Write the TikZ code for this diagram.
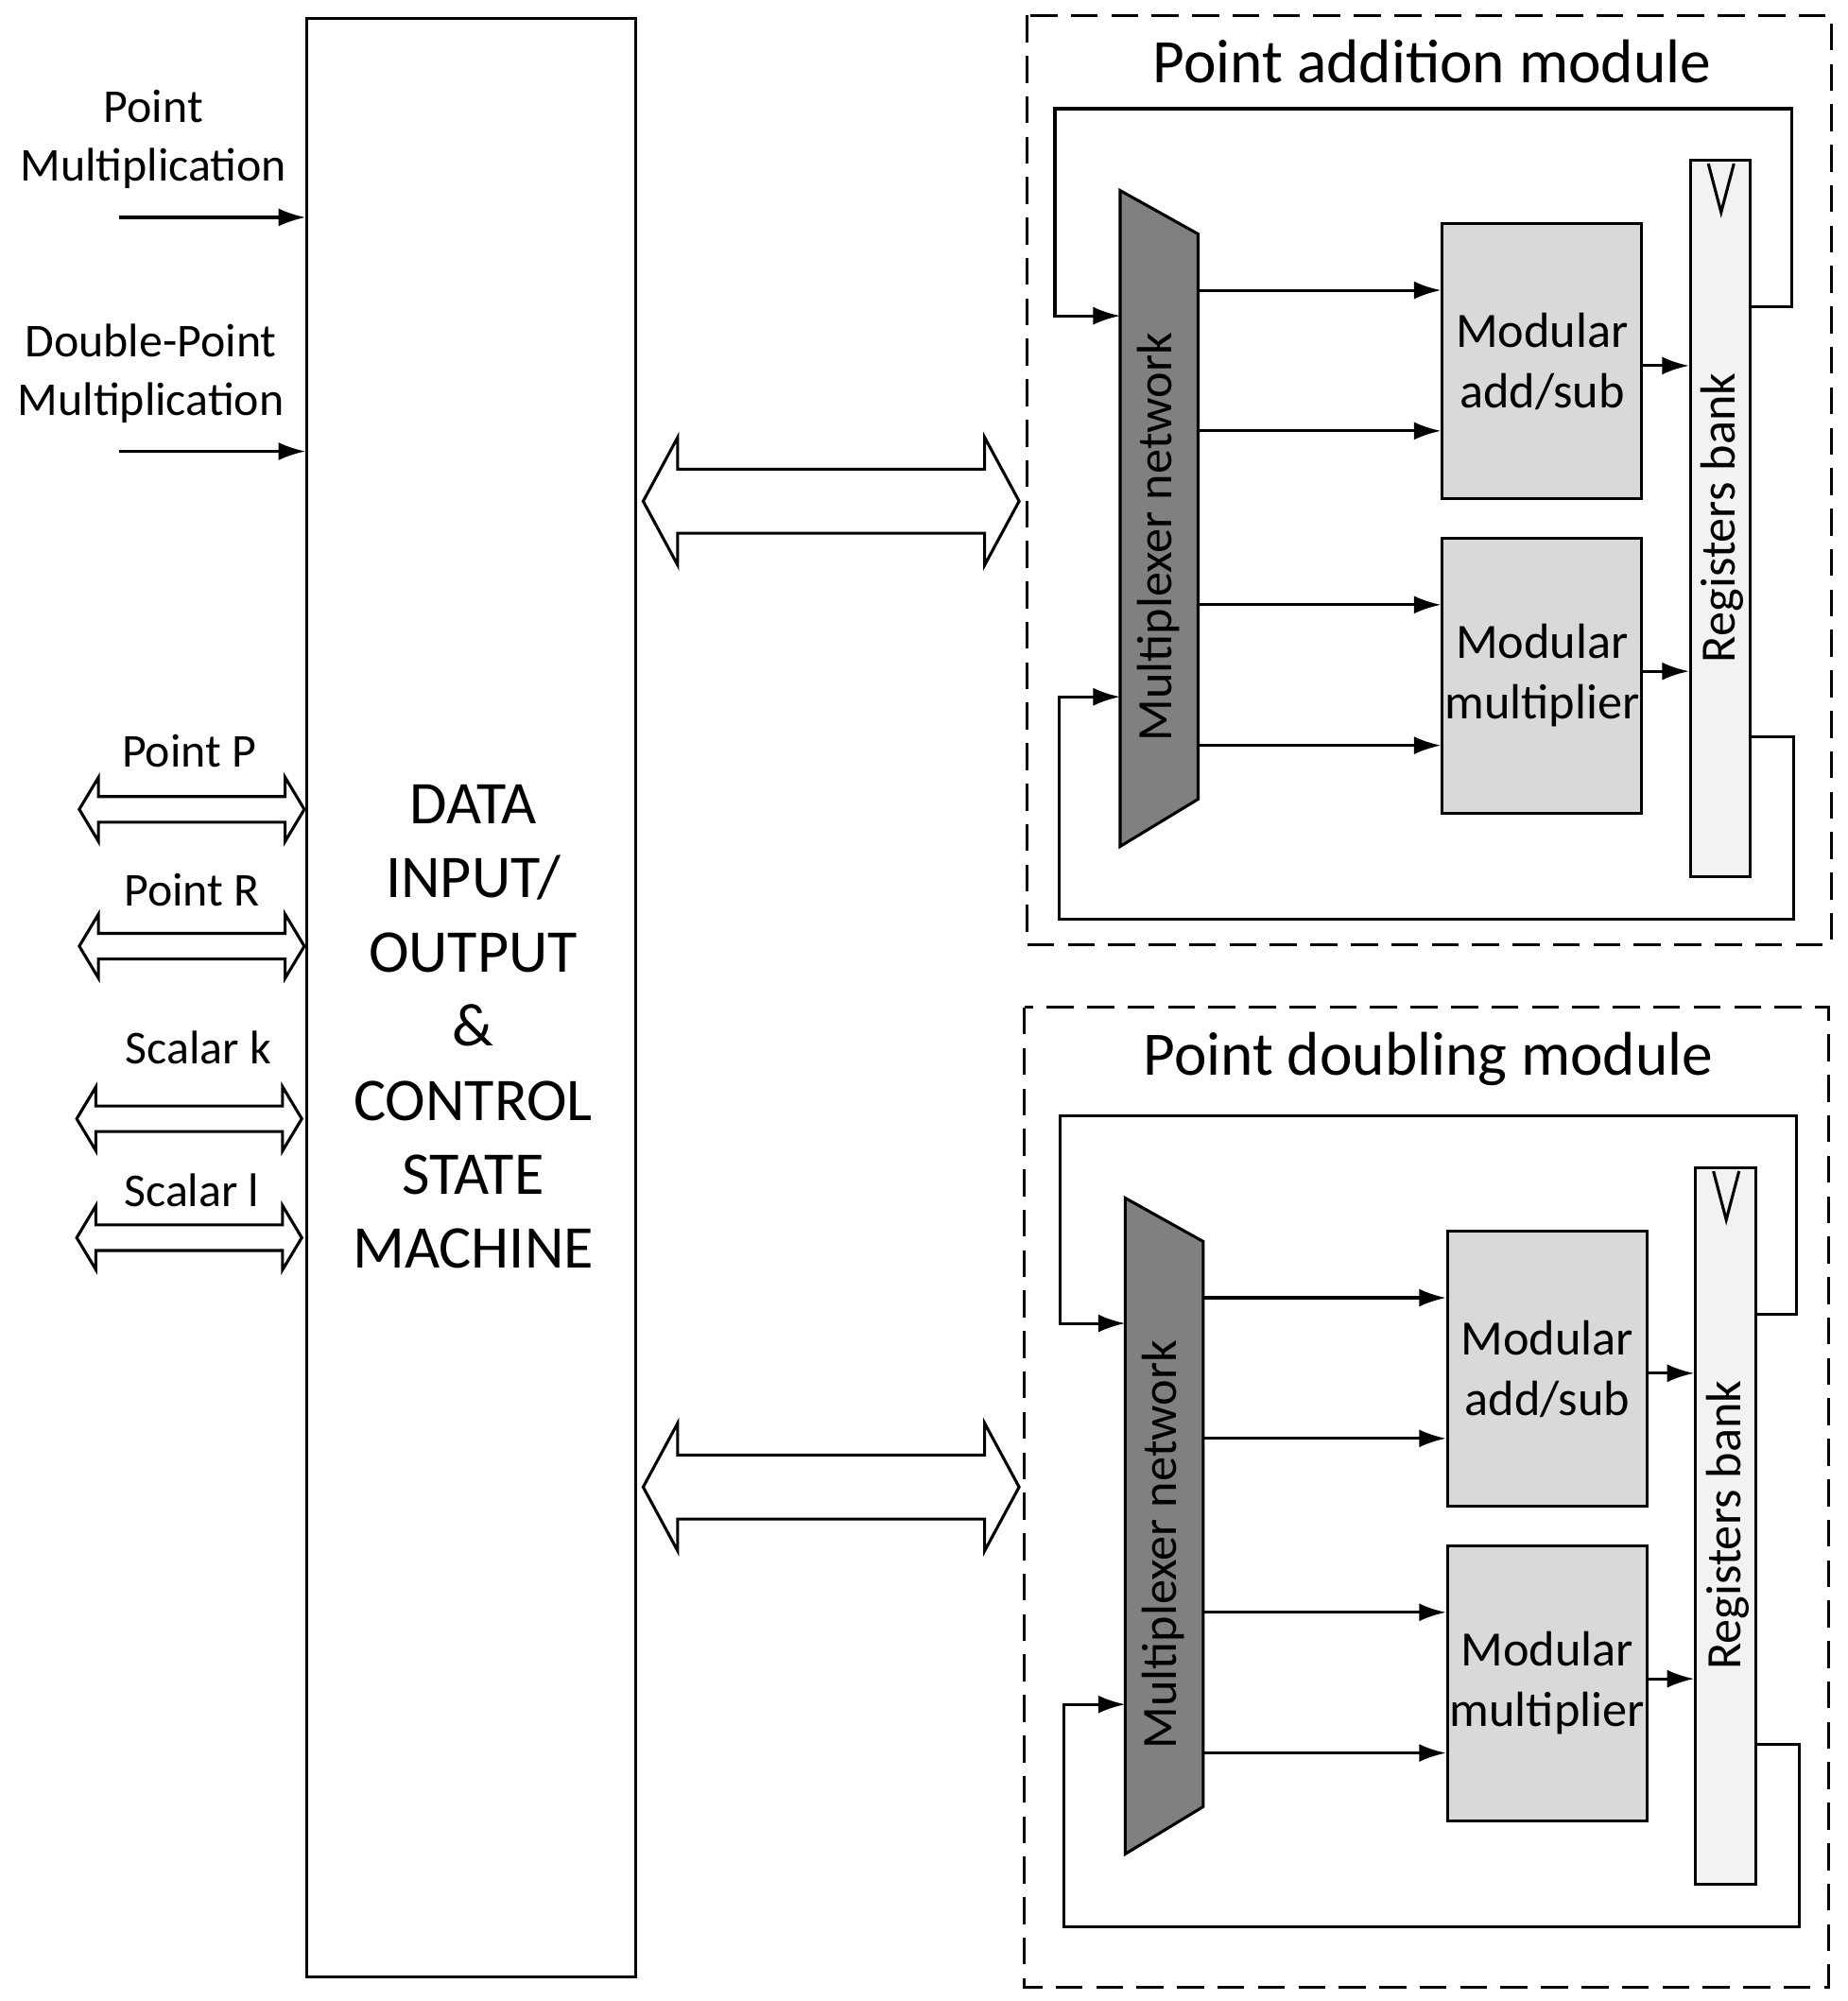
\documentclass[tikz,border=0pt]{standalone}
\usepackage{fontspec}
\setmainfont{Carlito}
\usetikzlibrary{arrows.meta}
\newcommand\hdarrow[6]{% x1 x2 y headhalf shafthalf headlen
  \draw[line width=1.3pt,fill=white] (#1,#3) -- (#1+#6,#3-#4) -- (#1+#6,#3-#5) -- (#2-#6,#3-#5) -- (#2-#6,#3-#4) -- (#2,#3) -- (#2-#6,#3+#4) -- (#2-#6,#3+#5) -- (#1+#6,#3+#5) -- (#1+#6,#3+#4) -- cycle;}
\newcommand\modblock[1]{%
  \draw[fill=black!50,line width=1.3pt] (876,149) -- (937,183) -- (937,625) -- (876,662) -- cycle;
  \node[rotate=90,font=\fontsize{22}{26}\selectfont] (mux#1) at (906,420) {Multiplexer network};
  \node[blk] (add#1) at (1206,282.5) {Modular\\add/sub};
  \node[blk] (mul#1) at (1206,528.5) {Modular\\multiplier};
  \node[draw,line width=1.3pt,fill=black!5,minimum width=0.94cm,minimum height=11.22cm,inner sep=0] (reg#1) at (1345.5,405.5) {};
  \node[rotate=90,font=\fontsize{22}{26}\selectfont] at (1347,405) {Registers bank};
  \draw[line width=1.3pt] (1336,128) -- (1346,166) -- (1356,128);
  \foreach \yy in {227,337}{\coordinate (a) at (937,\yy); \draw[arr] (a) -- (a -| add#1.west);}
  \foreach \yy in {473,583}{\coordinate (a) at (937,\yy); \draw[arr] (a) -- (a -| mul#1.west);}
  \coordinate (b) at (1284,286); \draw[arr] (b) -- (b -| reg#1.west);
  \coordinate (b) at (1284,525); \draw[arr] (b) -- (b -| reg#1.west);
  \coordinate (t1) at (1369,240); \coordinate (t2) at (876,247);
  \draw[arr] (t1) -- (1401,240) -- (1401,85) -- (825,85) -- (825,247) -- (t2);
  \coordinate (u1) at (1369,576); \coordinate (u2) at (876,545);
  \draw[arr] (u1) -- (1403,576) -- (1403,719) -- (828,719) -- (828,545) -- (u2);
}
\begin{document}
\begin{tikzpicture}[x=0.02cm,y=-0.02cm,
  arr/.style={line width=1.3pt,-{Latex[length=12pt,width=8pt]}},
  blk/.style={draw,line width=1.3pt,fill=black!15,minimum width=3.12cm,minimum height=4.3cm,align=center,font=\fontsize{22}{27}\selectfont,inner sep=0},
  lab/.style={align=center,font=\fontsize{21}{26}\selectfont}]
\useasboundingbox (0,0) rectangle (1445,1565);
\node[draw,line width=1.3pt,minimum width=5.14cm,minimum height=30.64cm,inner sep=0] (main) at (368.5,780) {};
\node[align=center,font=\fontsize{27}{33}\selectfont] at (370,803) {DATA\\INPUT/\\OUTPUT\\\&\\CONTROL\\STATE\\MACHINE};
\node[lab] (pm) at (120,109) {Point\\Multiplication};
\coordinate (pm0) at (93,170); \draw[arr] (pm0) -- (pm0 -| main.west);
\node[lab] (dpm) at (118,292) {Double-Point\\Multiplication};
\coordinate (dpm0) at (93,353); \draw[arr] (dpm0) -- (dpm0 -| main.west);
\node[lab] at (148,587) {Point P}; \hdarrow{62}{238}{633}{25}{10}{15}
\node[lab] at (150,696) {Point R}; \hdarrow{62}{238}{740}{25}{10}{15}
\node[lab] at (155,819) {Scalar k}; \hdarrow{60}{236}{875}{25}{10}{15}
\node[lab] at (150,931) {Scalar l}; \hdarrow{60}{236}{968}{25}{10}{15}
\hdarrow{503}{797}{392}{50}{25}{27}
\hdarrow{503}{797}{1163}{50}{25}{27}
\draw[dashed,dash pattern=on 12pt off 6pt,line width=1.3pt] (803,12) rectangle (1432,739);
\node[font=\fontsize{27.5}{32}\selectfont] at (1120,48) {Point addition module};
\draw[dashed,dash pattern=on 12pt off 6pt,line width=1.3pt] (801,788) rectangle (1430,1554);
\node[font=\fontsize{27.5}{32}\selectfont] at (1117,828) {Point doubling module};
\modblock{A}
\begin{scope}[shift={(4,788)}]\modblock{B}\end{scope}
\end{tikzpicture}
\end{document}
